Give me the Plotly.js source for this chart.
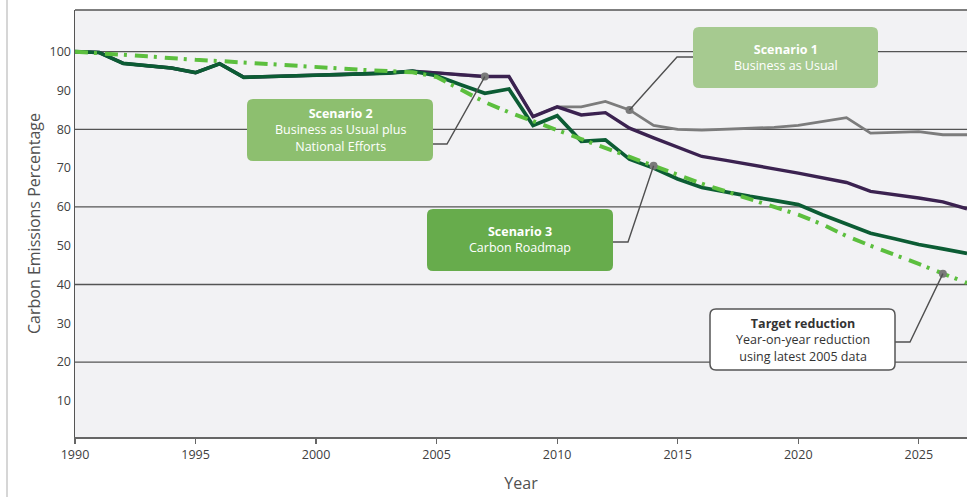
<!DOCTYPE html>
<html>
<head>
<meta charset="utf-8">
<script src="https://cdn.plot.ly/plotly-3.0.1.min.js"></script>
<style>
  html, body { margin: 0; padding: 0; background: #ffffff; }
  #chart { width: 976px; height: 497px; }
</style>
</head>
<body>
<div id="chart"></div>
<script>
// Years on the x axis
const years = [1990, 1991, 1992, 1993, 1994, 1995, 1996, 1997, 1998, 1999,
               2000, 2001, 2002, 2003, 2004, 2005, 2006, 2007, 2008, 2009,
               2010, 2011, 2012, 2013, 2014, 2015, 2016, 2017, 2018, 2019,
               2020, 2021, 2022, 2023, 2024, 2025, 2026, 2027];

// Scenario 1 – Business as Usual (%, 1990 = 100)
const scenario1 = [100, 99.8, 97.0, 96.3, 95.8, 94.6, 96.9, 93.4, 93.6, 93.8,
                   93.9, 94.0, 94.2, 94.5, 95.0, 94.6, 94.0, 93.6, 93.6, 83.3,
                   85.8, 85.8, 87.2, 85.0, 81.0, 80.0, 79.8, 80.0, 80.2, 80.5,
                   81.0, 82.0, 83.0, 79.0, 79.2, 79.4, 78.6, 78.6];

// Scenario 2 – Business as Usual plus National Efforts
const scenario2 = [100, 99.8, 97.0, 96.3, 95.8, 94.6, 96.9, 93.4, 93.6, 93.8,
                   93.9, 94.0, 94.2, 94.5, 95.0, 94.6, 94.0, 93.6, 93.6, 83.3,
                   85.8, 83.7, 84.3, 80.3, 77.8, 75.3, 73.0, 72.0, 70.8, 69.8,
                   68.7, 67.5, 66.3, 64.0, 63.2, 62.3, 61.3, 59.5];

// Scenario 3 – Carbon Roadmap
const scenario3 = [100, 99.8, 97.0, 96.3, 95.8, 94.6, 96.9, 93.4, 93.6, 93.8,
                   93.9, 94.0, 94.2, 94.5, 95.0, 93.8, 91.5, 89.3, 90.4, 81.0,
                   83.5, 76.9, 77.3, 72.3, 70.0, 67.2, 65.0, 63.8, 62.7, 61.7,
                   60.6, 58.0, 55.6, 53.2, 51.8, 50.3, 49.2, 48.0];

// Target reduction – year-on-year reduction using latest 2005 data
const target = [100, 99.7, 99.2, 98.8, 98.3, 97.9, 97.6, 97.2, 96.8, 96.3,
                95.9, 95.6, 95.3, 95.0, 94.7, 93.5, 90.2, 87.0, 84.4, 82.0,
                79.8, 77.5, 75.2, 73.0, 70.6, 68.2, 66.0, 64.0, 62.0, 60.0,
                58.0, 55.5, 52.5, 50.0, 47.7, 45.3, 42.8, 40.4];

// Axis ticks
const yTickVals = [10, 20, 30, 40, 50, 60, 70, 80, 90, 100];
const xTickVals = [1990, 1995, 2000, 2005, 2010, 2015, 2020, 2025];
const gridVals = [20, 40, 60, 80, 100];

// ---- geometry of the plot area ----
const W = 976, H = 497;
const M = { l: 75, r: 9, t: 10, b: 60 };
const XR = [1990, 2027];
const YR = [0.7, 110.75];
const plotW = W - M.l - M.r, plotH = H - M.t - M.b;

// pixel -> data / paper helpers for the callout boxes
const toX = px => XR[0] + (px - M.l) / plotW * (XR[1] - XR[0]);
const toY = py => YR[0] + (M.t + plotH - py) / plotH * (YR[1] - YR[0]);
const toPX = px => (px - M.l) / plotW;
const toPY = py => (M.t + plotH - py) / plotH;

function roundRect(x0, y0, x1, y1, r) {
  const X = toPX, Y = toPY;
  return `M${X(x0 + r)},${Y(y0)} L${X(x1 - r)},${Y(y0)} Q${X(x1)},${Y(y0)} ${X(x1)},${Y(y0 + r)} ` +
         `L${X(x1)},${Y(y1 - r)} Q${X(x1)},${Y(y1)} ${X(x1 - r)},${Y(y1)} ` +
         `L${X(x0 + r)},${Y(y1)} Q${X(x0)},${Y(y1)} ${X(x0)},${Y(y1 - r)} ` +
         `L${X(x0)},${Y(y0 + r)} Q${X(x0)},${Y(y0)} ${X(x0 + r)},${Y(y0)} Z`;
}

const at = (arr, yr) => arr[years.indexOf(yr)];

// Callouts: box in pixels, elbow of the leader line, anchor point on a series
const callouts = [
  { box: [693, 27, 878, 88], fill: '#a6ca90', line: null, edge: 693, elbow: [677, 57],
    px: 2013, py: at(scenario1, 2013),
    text: '<b>Scenario 1</b><br>Business as Usual', color: '#ffffff' },
  { box: [247, 99, 433, 161], fill: '#8dbf6f', line: null, edge: 433, elbow: [447, 144],
    px: 2007, py: at(scenario2, 2007),
    text: '<b>Scenario 2</b><br>Business as Usual plus<br>National Efforts', color: '#ffffff' },
  { box: [427, 209, 613, 271], fill: '#67ac4c', line: null, edge: 613, elbow: [628, 242],
    px: 2014, py: at(target, 2014),
    text: '<b>Scenario 3</b><br>Carbon Roadmap', color: '#ffffff' },
  { box: [710, 309, 895, 370], fill: '#ffffff', line: '#555555', edge: 895, elbow: [910, 342],
    px: 2026, py: at(target, 2026),
    text: '<b>Target reduction</b><br>Year-on-year reduction<br>using latest 2005 data', color: '#333333' }
];

const shapes = [];
gridVals.forEach(v => shapes.push({
  type: 'line', xref: 'paper', x0: 0, x1: 1, yref: 'y', y0: v, y1: v,
  line: { color: '#545454', width: 1.3 }, layer: 'below'
}));
// top frame line
shapes.push({ type: 'line', xref: 'paper', x0: 0, x1: 1, yref: 'paper', y0: 1, y1: 1,
  line: { color: '#545454', width: 1.5 }, layer: 'below' });
// thin page border on the left
shapes.push({ type: 'line', xref: 'paper', x0: toPX(7), x1: toPX(7), yref: 'paper', y0: toPY(0), y1: toPY(497),
  line: { color: '#c8c8c8', width: 1.5 } });

const annotations = [];
callouts.forEach(c => {
  const [x0, y0, x1, y1] = c.box;
  shapes.push({
    type: 'path', xref: 'x', yref: 'y', layer: 'above',
    path: `M${c.px},${c.py} L${toX(c.elbow[0])},${toY(c.elbow[1])} L${toX(c.edge)},${toY(c.elbow[1])}`,
    line: { color: '#505050', width: 1.4 }
  });
  shapes.push({
    type: 'path', xref: 'paper', yref: 'paper', layer: 'above',
    path: roundRect(x0, y0, x1, y1, 6),
    fillcolor: c.fill,
    line: c.line ? { color: c.line, width: 1.5 } : { width: 0 }
  });
  annotations.push({
    xref: 'paper', yref: 'paper', x: toPX((x0 + x1) / 2), y: toPY((y0 + y1) / 2),
    xanchor: 'center', yanchor: 'middle', showarrow: false,
    text: c.text, align: 'center',
    font: { family: 'Open Sans, sans-serif', size: 12.5, color: c.color }
  });
});

const traces = [
  { x: years, y: scenario1, name: 'Scenario 1', mode: 'lines',
    line: { color: '#7c7c7c', width: 2.8 } },
  { x: years, y: scenario2, name: 'Scenario 2', mode: 'lines',
    line: { color: '#3b2250', width: 3.4 } },
  { x: years, y: scenario3, name: 'Scenario 3', mode: 'lines',
    line: { color: '#0c5c34', width: 3.7 } },
  { x: years, y: target, name: 'Target reduction', mode: 'lines',
    line: { color: '#5cbf3e', width: 4, dash: '13px,6px,3px,8px' } },
  { x: callouts.map(c => c.px), y: callouts.map(c => c.py), mode: 'markers',
    marker: { color: '#7a7a7a', size: 8 }, hoverinfo: 'skip', showlegend: false }
];

const layout = {
  width: W, height: H,
  margin: M,
  paper_bgcolor: '#ffffff',
  plot_bgcolor: '#f2f2f4',
  showlegend: false,
  font: { family: 'Open Sans, sans-serif', color: '#444444' },
  xaxis: {
    range: XR, tickvals: xTickVals, ticks: 'outside', ticklen: 5, tickwidth: 1.3,
    tickcolor: '#666666', showgrid: false, zeroline: false,
    showline: true, linecolor: '#666666', linewidth: 2,
    tickfont: { size: 12.5, color: '#404040' },
    title: { text: 'Year', font: { size: 16, color: '#505050' }, standoff: 16 }
  },
  yaxis: {
    range: YR, tickvals: yTickVals, ticks: '', showgrid: false, zeroline: false,
    showline: true, linecolor: '#555555', linewidth: 1.5,
    tickfont: { size: 12.5, color: '#404040' },
    title: { text: 'Carbon Emissions Percentage', font: { size: 16, color: '#505050' }, standoff: 5 }
  },
  shapes: shapes,
  annotations: annotations
};

Plotly.newPlot('chart', traces, layout, { displayModeBar: false, staticPlot: true });
</script>
</body>
</html>
